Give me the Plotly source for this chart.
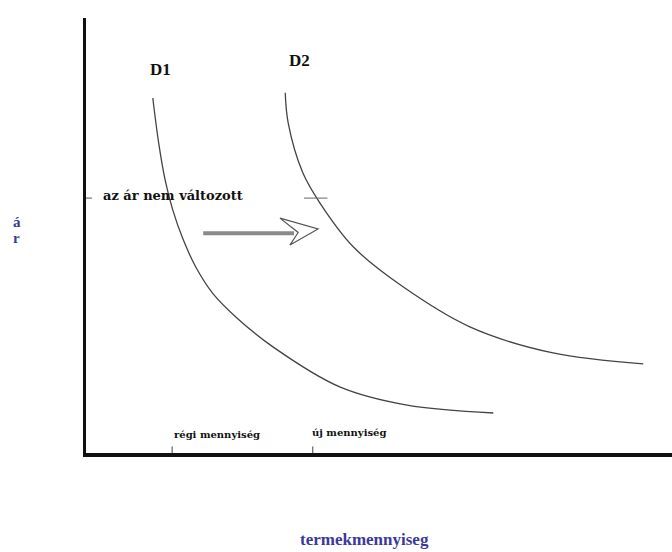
import plotly.graph_objects as go

# demand curves (quantity, price)
d1_q = [1.14, 1.24, 1.35, 1.48, 1.66, 1.88, 2.17, 2.58, 3.19, 4.33, 5.48, 6.95]
d1_p = [8.16, 7.13, 6.28, 5.59, 4.90, 4.26, 3.66, 3.10, 2.44, 1.52, 1.10, 0.92]
d2_q = [3.40, 3.45, 3.70, 3.99, 4.56, 5.41, 6.55, 7.97, 9.51]
d2_p = [8.28, 7.59, 6.44, 5.75, 4.74, 3.82, 2.90, 2.30, 2.05]

price = 5.86          # az ár nem változott
old_q = 1.47          # régi mennyiség
new_q = 3.87          # új mennyiség

serif = 'Liberation Serif'
blue = '#3a3a9c'

fig = go.Figure()
for q, p in ((d1_q, d1_p), (d2_q, d2_p)):
    fig.add_trace(go.Scatter(x=q, y=p, mode='lines',
                             line=dict(color='#444', width=1.3, shape='spline', smoothing=1.0),
                             hoverinfo='skip', showlegend=False))

shapes = []
# price ticks on the y axis and on D2
shapes.append(dict(type='line', xref='x', yref='y', x0=-0.1, x1=0.1, y0=price, y1=price,
                   line=dict(color='#555', width=1)))
shapes.append(dict(type='line', xref='x', yref='y', x0=new_q - 0.15, x1=new_q + 0.25, y0=price, y1=price,
                   line=dict(color='#666', width=1)))
# quantity ticks on the x axis
for q in (old_q, new_q):
    shapes.append(dict(type='line', xref='x', yref='y', x0=q, x1=q, y0=-0.15, y1=0.15,
                       line=dict(color='#444', width=1)))
# shift arrow: gray shaft + open head
shapes.append(dict(type='line', xref='x', yref='y', x0=2.0, x1=3.55, y0=5.05, y1=5.05,
                   line=dict(color='#8a8a8a', width=4)))
shapes.append(dict(type='path', xref='x', yref='y',
                   path='M 3.31,5.40 L 3.96,5.15 L 3.48,4.78 L 3.62,5.07 Z',
                   line=dict(color='#555', width=1.2), fillcolor='rgba(255,255,255,0)'))

ann = [
    dict(x=1.27, y=8.81, text='<b>D1</b>', font=dict(size=17, family=serif)),
    dict(x=3.65, y=9.02, text='<b>D2</b>', font=dict(size=17, family=serif)),
    dict(x=0.25, y=price + 0.06, text='<b>az ár nem változott</b>', font=dict(size=13, family='DejaVu Serif'),
         xanchor='left'),
    dict(x=old_q + 0.0, y=0.42, text='<b>régi mennyiség</b>', font=dict(size=10, family='DejaVu Serif'),
         xanchor='left'),
    dict(x=new_q - 0.05, y=0.47, text='<b>új mennyiség</b>', font=dict(size=10, family='DejaVu Serif'),
         xanchor='left'),
]
for a in ann:
    a.update(xref='x', yref='y', showarrow=False)
    a['font'].update(color='#111')
ann.append(dict(xref='paper', yref='paper', x=0.475, y=-0.226, text='<b>termekmennyiseg</b>',
                showarrow=False, font=dict(family=serif, size=17, color=blue)))
ann.append(dict(xref='paper', yref='paper', x=-0.128, y=0.53, text='<b>á</b>',
                showarrow=False, font=dict(family=serif, size=15, color=blue)))
ann.append(dict(xref='paper', yref='paper', x=-0.128, y=0.495, text='<b>r</b>',
                showarrow=False, font=dict(family=serif, size=15, color=blue)))

fig.update_layout(
    width=672, height=552,
    margin=dict(l=86, r=0, t=18, b=99),
    paper_bgcolor='white', plot_bgcolor='white',
    shapes=shapes, annotations=ann,
    xaxis=dict(range=[0, 10], showgrid=False, zeroline=False, showticklabels=False, ticks='',
               showline=True, linecolor='#111', linewidth=4),
    yaxis=dict(range=[0, 10], showgrid=False, zeroline=False, showticklabels=False, ticks='',
               showline=True, linecolor='#111', linewidth=3),
)
# drop the page's default body margin so the 672x552 figure fills the window
fig.write_html('out.html', config={'displayModeBar': False},
               post_script="document.body.style.margin='0';")
